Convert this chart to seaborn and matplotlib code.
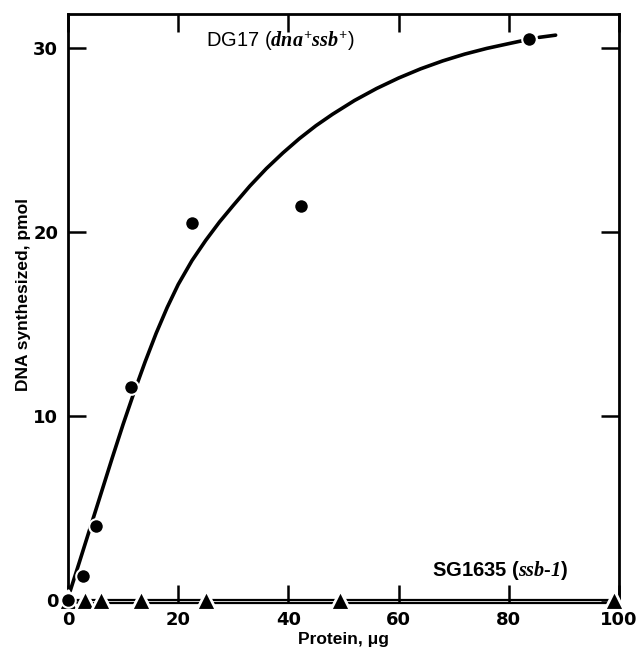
import matplotlib
matplotlib.use("Agg")
import matplotlib.pyplot as plt
import seaborn as sns
import pandas as pd

# DG17 (dna+ ssb+) measured points
dg_x = [0, 2.8, 5.0, 11.4, 22.5, 42.2, 83.6]
dg_y = [0, 1.3, 4.0, 11.6, 20.5, 21.4, 30.5]
# curve drawn through the DG17 data
curve_x = [0.4, 2, 4, 6, 8, 10, 12, 14, 16, 18, 20, 22.5, 25, 27.5, 30, 33, 36, 39,
           42, 45, 48, 52, 56, 60, 64, 68, 72, 76, 80, 82.5]
curve_y = [0.5, 2.0, 3.9, 5.8, 7.7, 9.55, 11.3, 12.95, 14.5, 15.9, 17.15, 18.45,
           19.55, 20.55, 21.45, 22.5, 23.45, 24.3, 25.08, 25.78, 26.4, 27.15, 27.8,
           28.37, 28.87, 29.3, 29.67, 29.98, 30.24, 30.4]
curve2_x = [85.5, 88.5]
curve2_y = [30.58, 30.7]
# SG1635 (ssb-1) points
sg_x = [0, 3.0, 6.0, 13.3, 25.1, 49.4, 99.1]
sg_y = [0, 0, 0, 0, 0, 0, 0]

xticks = [0, 20, 40, 60, 80, 100]
yticks = [0, 10, 20, 30]

sns.set_style("ticks")
plt.rcParams['font.family'] = ['Liberation Sans', 'DejaVu Sans']
plt.rcParams['mathtext.fontset'] = 'custom'
plt.rcParams['mathtext.it'] = 'Liberation Serif:italic:bold'
plt.rcParams['mathtext.rm'] = 'Liberation Serif:italic:bold'
for k in ['text.color', 'axes.labelcolor', 'xtick.color', 'ytick.color', 'axes.edgecolor']:
    plt.rcParams[k] = 'black'

fig = plt.figure(figsize=(6.38, 6.54), dpi=100)
ax = fig.add_axes([0.1066, 0.078, 0.8636, 0.9006])

dg = pd.DataFrame({"x": dg_x, "y": dg_y})
cv = pd.DataFrame({"x": curve_x, "y": curve_y})
cv2 = pd.DataFrame({"x": curve2_x, "y": curve2_y})
sg = pd.DataFrame({"x": sg_x, "y": sg_y})

sns.lineplot(data=cv, x="x", y="y", ax=ax, color="black", lw=2.6, sort=False)
sns.lineplot(data=cv2, x="x", y="y", ax=ax, color="black", lw=2.6, sort=False)
# SG1635 line (forms a double line with the bottom axis)
sns.lineplot(data=sg, x="x", y="y", ax=ax, color="black", lw=1.6, sort=False)
sns.scatterplot(data=sg, x="x", y="y", ax=ax, marker="^", s=200, color="black",
                edgecolor="white", linewidth=2.0, zorder=5, clip_on=False)
sns.scatterplot(data=dg, x="x", y="y", ax=ax, marker="o", s=110, color="black",
                edgecolor="white", linewidth=1.5, zorder=6, clip_on=False)

ax.set_xlim(0, 100)
ax.set_ylim(-0.16, 31.85)
ax.set_xticks(xticks)
ax.set_yticks(yticks)
ax.set_xticklabels([str(v) for v in xticks], fontsize=13, fontweight="bold",
                   family="DejaVu Sans")
ax.set_yticklabels([str(v) for v in yticks], fontsize=13, fontweight="bold",
                   family="DejaVu Sans")
ax.tick_params(axis="both", direction="in", length=13, width=1.8,
               top=True, right=True)
ax.tick_params(axis="x", pad=6)
ax.tick_params(axis="y", pad=7)
for s in ax.spines.values():
    s.set_linewidth(2.0)
ax.spines['bottom'].set_linewidth(1.6)
ax.set_xlabel("Protein, μg", fontsize=12.5, fontweight="bold", labelpad=2)
ax.set_ylabel("DNA synthesized, pmol", fontsize=12.5, fontweight="bold")
ax.yaxis.set_label_coords(-0.068, 0.523)

ax.text(38.6, 30.35, r"DG17 ($\mathit{dna}^{+}\mathit{ssb}^{+}$)", fontsize=14.5,
        ha="center", va="center")
ax.text(78.5, 1.6, r"SG1635 ($\mathit{ssb}$-$\mathit{1}$)", fontsize=14.5,
        fontweight="bold", ha="center", va="center")

fig.savefig("out.png", dpi=100)
